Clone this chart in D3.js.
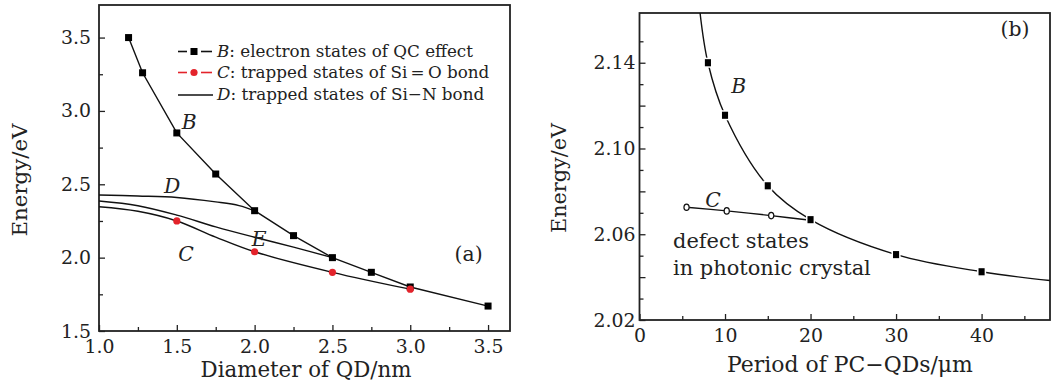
<!DOCTYPE html>
<html><head><meta charset="utf-8">
<script src="https://cdn.jsdelivr.net/npm/d3@7"></script>
<style>
html,body{margin:0;padding:0;background:#fff;}
svg text{font-family:"DejaVu Serif","Liberation Serif",serif;fill:#222;}
</style></head>
<body>
<svg id="chart" width="1051" height="385"></svg>
<script>
// ---------- Panel (a) data ----------
const aBx = [1.19, 1.28, 1.5, 1.75, 2.0, 2.25, 2.5, 2.75, 3.0, 3.5];
const aBy = [3.50, 3.26, 2.85, 2.57, 2.32, 2.15, 2.00, 1.90, 1.80, 1.67];
const aCmarkX = [1.5, 2.0, 2.5, 3.0];
const aCmarkY = [2.25, 2.04, 1.90, 1.785];
const aCcurveX = [1.0, 1.25, 1.5, 1.75, 2.0, 2.5, 3.0];
const aCcurveY = [2.347, 2.316, 2.25, 2.14, 2.04, 1.90, 1.785];
const aDcurveX = [1.0, 1.25, 1.5, 1.75, 1.9, 2.0];
const aDcurveY = [2.427, 2.42, 2.41, 2.38, 2.355, 2.32];
const aEcurveX = [1.0, 1.25, 1.5, 1.75, 2.0, 2.25, 2.5];
const aEcurveY = [2.386, 2.354, 2.29, 2.21, 2.139, 2.072, 2.0];
const aXticks = [1.0, 1.5, 2.0, 2.5, 3.0, 3.5];
const aXminor = [1.25, 1.75, 2.25, 2.75, 3.25];
const aYticks = [1.5, 2.0, 2.5, 3.0, 3.5];
const aYminor = [1.75, 2.25, 2.75, 3.25];
const legendLabels = [["B", ": electron states of QC effect"], ["C", ": trapped states of Si\u2009=\u2009O bond"], ["D", ": trapped states of Si\u2212N bond"]];

// ---------- Panel (b) data ----------
const bBcurveX = [7.0, 8, 10, 15, 20, 30, 40, 48];
const bBcurveY = [2.166, 2.14, 2.1155, 2.0826, 2.0668, 2.0505, 2.0425, 2.0384];
const bBmarkX = [8, 10, 15, 20, 30, 40];
const bBmarkY = [2.14, 2.1155, 2.0826, 2.0668, 2.0505, 2.0425];
const bCcurveX = [5.5, 10.2, 15.4, 20];
const bCcurveY = [2.0726, 2.0709, 2.0687, 2.0665];
const bCmarkX = [5.5, 10.2, 15.4];
const bCmarkY = [2.0726, 2.0709, 2.0687];
const bXticks = [0, 10, 20, 30, 40];
const bXminor = [5, 15, 25, 35, 45];
const bYlabels = [2.02, 2.06, 2.10, 2.14];
const bYmajor = [2.04, 2.08, 2.12];
const bYminor = [2.03, 2.05, 2.07, 2.09, 2.11, 2.13, 2.15];

const svg = d3.select("#chart");
const zip = (xs, ys) => xs.map((x, i) => [x, ys[i]]);

function fitSize(str, target, italic) {
  const t = svg.append("text").attr("font-size", 100).attr("font-style", italic ? "italic" : null).text(str);
  const w = t.node().getComputedTextLength();
  t.remove();
  return 100 * target / w;
}
const tickFS = fitSize("2.14", 42);
const legendFS = fitSize("B: electron states of QC effect", 256);
const annFS = fitSize("(a)", 28);
const defectFS = fitSize("in photonic crystal", 198);

function panel(cfg) {
  const g = svg.append("g");
  const x = d3.scaleLinear().domain(cfg.xd).range([cfg.L, cfg.R]);
  const y = d3.scaleLinear().domain(cfg.yd).range([cfg.B, cfg.T]);
  const clipId = "clip" + cfg.id;
  svg.append("clipPath").attr("id", clipId).append("rect")
    .attr("x", cfg.L).attr("y", cfg.T).attr("width", cfg.R - cfg.L).attr("height", cfg.B - cfg.T);

  const xAx = g.append("g").attr("transform", `translate(0,${cfg.B})`)
    .call(d3.axisBottom(x).tickValues(cfg.xt).tickFormat(cfg.xf).tickSizeInner(-6).tickSizeOuter(0).tickPadding(9));
  const xMin = g.append("g").attr("transform", `translate(0,${cfg.B})`)
    .call(d3.axisBottom(x).tickValues(cfg.xm).tickFormat("").tickSizeInner(-4).tickSizeOuter(0));
  const yAx = g.append("g").attr("transform", `translate(${cfg.L},0)`)
    .call(d3.axisLeft(y).tickValues(cfg.yt).tickFormat(cfg.yf).tickSizeInner(-6).tickSizeOuter(0).tickPadding(cfg.yPad));
  const yMaj = g.append("g").attr("transform", `translate(${cfg.L},0)`)
    .call(d3.axisLeft(y).tickValues(cfg.ymaj || []).tickFormat("").tickSizeInner(-6).tickSizeOuter(0));
  const yMin = g.append("g").attr("transform", `translate(${cfg.L},0)`)
    .call(d3.axisLeft(y).tickValues(cfg.ym).tickFormat("").tickSizeInner(-4).tickSizeOuter(0));
  [xAx, xMin, yAx, yMaj, yMin].forEach(a => {
    a.attr("font-family", null).attr("font-size", null);
    a.select(".domain").remove();
    a.selectAll("line").attr("stroke", "#222").attr("stroke-width", 1.3);
    a.selectAll("text").attr("font-size", tickFS).attr("fill", "#222");
  });
  g.append("rect").attr("x", cfg.L).attr("y", cfg.T).attr("width", cfg.R - cfg.L).attr("height", cfg.B - cfg.T)
    .attr("fill", "none").attr("stroke", "#222").attr("stroke-width", 1.8);

  g.append("text").attr("x", cfg.xTitleX).attr("y", cfg.xTitleY)
    .attr("text-anchor", "middle").attr("font-size", fitSize(cfg.xTitle, cfg.xTitleW)).text(cfg.xTitle);
  g.append("text").attr("transform", `translate(${cfg.yTitleX},${cfg.yTitleY}) rotate(-90)`)
    .attr("text-anchor", "middle").attr("font-size", fitSize("Energy/eV", cfg.yTitleW)).text("Energy/eV");
  return {g, x, y, clipId};
}

const smooth = (x, y) => d3.line().x(d => x(d[0])).y(d => y(d[1])).curve(d3.curveCatmullRom.alpha(0.5));
const straight = (x, y) => d3.line().x(d => x(d[0])).y(d => y(d[1])).curve(d3.curveLinear);

// ---------- Panel (a) ----------
const A = panel({id: "a", L: 99, R: 510, T: 5, B: 331, xd: [1.0, 3.641], yd: [1.5, 3.722],
  xt: aXticks, xm: aXminor, yt: aYticks, ym: aYminor, xf: d3.format(".1f"), yf: d3.format(".1f"), yPad: 8,
  xTitle: "Diameter of QD/nm", xTitleX: 306, xTitleY: 377, xTitleW: 211, yTitleX: 27, yTitleY: 180, yTitleW: 113});
const ga = A.g.append("g").attr("clip-path", `url(#${A.clipId})`);
[[aCcurveX, aCcurveY, smooth], [aDcurveX, aDcurveY, smooth], [aEcurveX, aEcurveY, smooth], [aBx, aBy, straight]].forEach(([xs, ys, f]) => {
  ga.append("path").datum(zip(xs, ys)).attr("d", f(A.x, A.y))
    .attr("fill", "none").attr("stroke", "#111").attr("stroke-width", 1.4);
});
ga.selectAll(".bsq").data(zip(aBx, aBy)).join("rect")
  .attr("x", d => A.x(d[0]) - 3.5).attr("y", d => A.y(d[1]) - 3.5).attr("width", 7).attr("height", 7).attr("fill", "#000");
ga.selectAll(".cdot").data(zip(aCmarkX, aCmarkY)).join("circle")
  .attr("cx", d => A.x(d[0])).attr("cy", d => A.y(d[1])).attr("r", 3.6).attr("fill", "#e3232b");

const itl = (g, xx, yy, t) => g.append("text").attr("x", xx).attr("y", yy).attr("text-anchor", "middle")
  .attr("font-size", annFS).attr("font-style", "italic").text(t);
itl(A.g, A.x(1.58), A.y(2.88), "B");
itl(A.g, A.x(1.47), A.y(2.44), "D");
itl(A.g, A.x(2.03), A.y(2.08), "E");
itl(A.g, A.x(1.56), A.y(1.975), "C");
A.g.append("text").attr("x", A.x(3.375)).attr("y", A.y(1.975)).attr("text-anchor", "middle")
  .attr("font-size", annFS).text("(a)");

const lg = A.g.append("g");
legendLabels.forEach((lab, i) => {
  const yy = [51.5, 72.5, 95][i];
  const col = i === 1 ? "#e3232b" : "#111";
  if (i < 2) {
    lg.append("line").attr("x1", 178).attr("x2", 187).attr("y1", yy).attr("y2", yy).attr("stroke", col).attr("stroke-width", 1.6);
    lg.append("line").attr("x1", 201).attr("x2", 212).attr("y1", yy).attr("y2", yy).attr("stroke", col).attr("stroke-width", 1.6);
    if (i === 0) lg.append("rect").attr("x", 190.5).attr("y", yy - 3.5).attr("width", 7).attr("height", 7).attr("fill", "#000");
    else lg.append("circle").attr("cx", 194).attr("cy", yy).attr("r", 3.6).attr("fill", col);
  } else {
    lg.append("line").attr("x1", 178).attr("x2", 213).attr("y1", yy).attr("y2", yy).attr("stroke", col).attr("stroke-width", 1.6);
  }
  const t = lg.append("text").attr("x", 217).attr("y", yy + 5).attr("font-size", legendFS);
  t.append("tspan").attr("font-style", "italic").text(lab[0]);
  t.append("tspan").text(lab[1]);
});

// ---------- Panel (b) ----------
const Bp = panel({id: "b", L: 639.5, R: 1050, T: 13, B: 320, xd: [0, 48.0], yd: [2.02, 2.1632],
  xt: bXticks, xm: bXminor, yt: bYlabels, ym: bYminor, ymaj: bYmajor, xf: d3.format("d"), yf: d3.format(".2f"), yPad: 4,
  xTitle: "Period of PC\u2212QDs/\u03bcm", xTitleX: 850, xTitleY: 372, xTitleW: 246, yTitleX: 566, yTitleY: 178, yTitleW: 110});
const gb = Bp.g.append("g").attr("clip-path", `url(#${Bp.clipId})`);
[[bBcurveX, bBcurveY], [bCcurveX, bCcurveY]].forEach(([xs, ys]) => {
  gb.append("path").datum(zip(xs, ys)).attr("d", smooth(Bp.x, Bp.y))
    .attr("fill", "none").attr("stroke", "#111").attr("stroke-width", 1.4);
});
gb.selectAll(".bsq").data(zip(bBmarkX, bBmarkY)).join("rect")
  .attr("x", d => Bp.x(d[0]) - 3.8).attr("y", d => Bp.y(d[1]) - 4.3).attr("width", 7.6).attr("height", 8.6)
  .attr("fill", "#000").attr("stroke", "#fff").attr("stroke-width", 1.5);
gb.selectAll(".cdia").data(zip(bCmarkX, bCmarkY)).join("ellipse")
  .attr("cx", d => Bp.x(d[0])).attr("cy", d => Bp.y(d[1])).attr("rx", 2.6).attr("ry", 3.2)
  .attr("fill", "#fff").attr("stroke", "#111").attr("stroke-width", 1.2);
itl(Bp.g, Bp.x(11.6), Bp.y(2.1258), "B");
itl(Bp.g, Bp.x(8.6), Bp.y(2.0727), "C");
Bp.g.append("text").attr("x", Bp.x(43.9)).attr("y", Bp.y(2.1526)).attr("text-anchor", "middle")
  .attr("font-size", annFS).text("(b)");
Bp.g.append("text").attr("x", 673).attr("y", 248).attr("font-size", defectFS).text("defect states");
Bp.g.append("text").attr("x", 673).attr("y", 275).attr("font-size", defectFS).text("in photonic crystal");
</script>
</body></html>
